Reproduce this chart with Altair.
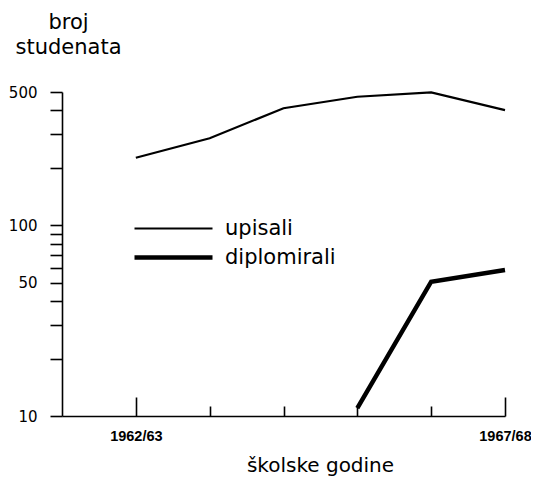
import altair as alt
import pandas as pd

years = ["1962/63", "1963/64", "1964/65", "1965/66", "1966/67", "1967/68"]
upisali = [226, 286, 411, 472, 498, 402]
diplomirali_years = ["1965/66", "1966/67", "1967/68"]
diplomirali = [11, 50.6, 58.3]
series_names = ["upisali", "diplomirali"]
y_ticks = [10, 20, 30, 40, 50, 60, 70, 80, 90, 100, 200, 300, 400, 500]
y_labeled = [10, 50, 100, 500]
x_labeled = ["1962/63", "1967/68"]

rows = []
for i, (yr, v) in enumerate(zip(years, upisali)):
    rows.append({"idx": i, "year": yr, "value": v, "series": "upisali"})
for yr, v in zip(diplomirali_years, diplomirali):
    rows.append({"idx": years.index(yr), "year": yr, "value": v, "series": "diplomirali"})
df = pd.DataFrame(rows)

font = "DejaVu Sans"
label_arr = "[" + ",".join(f"'{y}'" for y in years) + "]"
xl_arr = "[" + ",".join(f"'{y}'" for y in x_labeled) + "]"
yl_arr = "[" + ",".join(str(v) for v in y_labeled) + "]"

xscale = alt.Scale(domain=[-1, 5], nice=False, zero=False)
yscale = alt.Scale(type="log", domain=[10, 500], nice=False)
sw_scale = alt.Scale(domain=series_names, range=[2.2, 4.5])

bottom_axis = alt.Axis(
    orient="bottom",
    values=list(range(len(years))),
    labelExpr=f"indexof({xl_arr}, {label_arr}[datum.value]) >= 0 ? {label_arr}[datum.value] : ''",
    ticks=False, tickSize=0, grid=False,
    domainColor="black", domainWidth=1.6,
    labelFont="Liberation Sans", labelFontWeight="bold", labelFontSize=14.5, labelColor="black",
    labelPadding=13, labelBaseline="top", labelFlush=False, labelOverlap=False,
    title="školske godine", titleFont=font, titleFontSize=20, titleFontWeight="normal",
    titleColor="black", titleX=258, titleY=55, titleAlign="center", titleBaseline="alphabetic",
)

top_axis = alt.Axis(
    orient="top", offset=-324,
    values=list(range(len(years))),
    labels=False, domain=False, grid=False, title="",
    tickColor="black", tickWidth=1.6,
    tickSize=alt.condition("datum.value == 0 || datum.value == 5", alt.value(19), alt.value(10)),
)

y_axis = alt.Axis(
    values=y_ticks, format="d",
    labelExpr=f"indexof({yl_arr}, datum.value) >= 0 ? datum.label : ''",
    tickSize=12, tickColor="black", tickWidth=1.6,
    domainColor="black", domainWidth=1.6, grid=False,
    labelFont=font, labelFontSize=15, labelPadding=13, labelColor="black", labelOverlap=False,
    title=["broj", "studenata"], titleAngle=0, titleAlign="center", titleX=6, titleY=-64,
    titleBaseline="alphabetic", titleLineHeight=25, titleFont=font, titleFontSize=21,
    titleFontWeight="normal", titleColor="black",
)

legend = alt.Legend(
    orient="none", legendX=70, legendY=122, title=None,
    symbolType="stroke", symbolSize=6084, symbolStrokeColor="black",
    labelFont=font, labelFontSize=21, labelColor="black", labelOffset=10,
    clipHeight=29, rowPadding=0, padding=0,
)

base = alt.Chart(df)
upis = base.transform_filter("datum.series == 'upisali'").mark_line(color="black").encode(
    x=alt.X("idx:Q", scale=xscale, axis=bottom_axis),
    y=alt.Y("value:Q", scale=yscale, axis=y_axis),
    strokeWidth=alt.StrokeWidth("series:N", scale=sw_scale, legend=legend),
)
dipl = base.transform_filter("datum.series == 'diplomirali'").mark_line(color="black").encode(
    x=alt.X("idx:Q", scale=xscale, axis=top_axis),
    y=alt.Y("value:Q", scale=yscale, axis=y_axis),
    strokeWidth=alt.StrokeWidth("series:N", scale=sw_scale, legend=legend),
)

chart = alt.layer(upis, dipl).resolve_axis(x="independent").properties(
    width=443, height=324,
    padding={"left": 54, "top": 84, "right": 26, "bottom": 75},
    autosize=alt.AutoSizeParams(type="none"),
    background="white",
).configure_view(strokeWidth=0)

chart.save("out.html", embed_options={"renderer": "svg", "actions": False})
